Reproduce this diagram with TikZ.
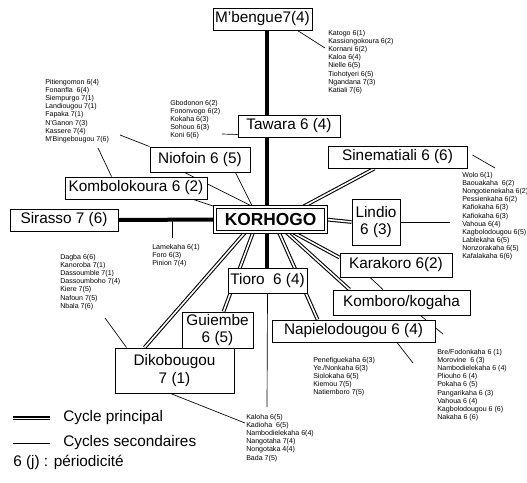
\documentclass[tikz,border=0pt]{standalone}
\usepackage{fontspec}
\setmainfont{Liberation Sans}
\usetikzlibrary{calc}
\pgfdeclarelayer{fond}
\pgfsetlayers{fond,main}
\tikzset{
  marche/.style={draw, fill=white, line width=0.7pt, inner sep=0pt, align=center,
    font=\fontsize{11.5}{13}\selectfont},
  liste/.style={anchor=north west, align=left, inner sep=0pt,
    font=\fontsize{5.3}{6.1}\selectfont},
  principal/.style={double, line width=0.8pt, double distance=1.2pt},
  axe/.style={line width=3pt},
  secondaire/.style={line width=0.5pt}
}
\begin{document}
\begin{tikzpicture}[x=0.75pt, y=-0.75pt]
                \useasboundingbox (0,0) rectangle (527,482);
                \node[marche, minimum width=74.25pt, minimum height=16.5pt] (mbengue) at (262.5,19) {M'bengue7(4)};
                \node[marche, minimum width=76.5pt, minimum height=16.5pt] (tawara) at (289,126) {Tawara 6 (4)};
                \node[marche, minimum width=75pt, minimum height=18.75pt] (niofoin) at (200,159.5) {Niofoin 6 (5)};
                \node[marche, minimum width=106.5pt, minimum height=16.5pt] (kombo) at (136,188) {Kombolokoura 6 (2)};
                \node[marche, minimum width=104.25pt, minimum height=16.5pt] (sinema) at (397.5,157) {Sinematiali 6 (6)};
                \node[marche, double, line width=0.8pt, double distance=1.2pt, minimum width=83.25pt,
                    minimum height=18.75pt, font=\fontsize{13}{15}\selectfont\bfseries] (korhogo) at (270.5,219.5) {KORHOGO};
                \node[marche, minimum width=81pt, minimum height=16.5pt] (sirasso) at (64,220) {Sirasso 7 (6)};
                \node[marche, minimum width=36pt, minimum height=34.5pt] (lindio) at (376,222) {Lindio\\6 (3)};
                \node[marche, minimum width=84pt, minimum height=18pt] (karakoro) at (396,265) {Karakoro 6(2)};
                \node[marche, minimum width=59.25pt, minimum height=18.75pt] (tioro) at (267.5,280.5) {Tioro~~6 (4)};
                \node[marche, minimum width=102.75pt, minimum height=18.75pt] (komboro) at (401.5,302.5) {Komboro/kogaha};
                \node[marche, minimum width=122.25pt, minimum height=16.5pt] (napie) at (353.5,331) {Napielodougou 6 (4)};
                \node[marche, minimum width=89.25pt, minimum height=33.75pt] (diko) at (174.5,370.5) {Dikobougou\\7 (1)};
                \node[marche, minimum width=53.25pt, minimum height=27pt] (guiembe) at (217.5,330) {Guiembe\\6 (5)};

                \node[liste] (mbliste) at (328,30) {Katogo 6(1)\\Kassiongokoura 6(2)\\Kornani 6(2)\\Kaloa 6(4)\\Nielle 6(5)\\Tiohotyeri 6(5)\\Ngandana 7(3)\\Katiali 7(6)};
                \node[liste] (pitliste) at (45,79) {Pitiengomon 6(4)\\Fonanfla\ \ 6(4)\\Siempurgo 7(1)\\Landiougou 7(1)\\Fapaka 7(1)\\N'Ganon 7(3)\\Kassere 7(4)\\M'Bingebougou 7(6)};
                \node[liste] (gboliste) at (170,100) {Gbodonon 6(2)\\Fononvogo 6(2)\\Kokaha 6(3)\\Sohouo 6(3)\\Koni 6(6)};
                \node[liste] (wololiste) at (462,172) {Wolo 6(1)\\Baouakaha\ \ 6(2)\\Nongotienekaha 6(2)\\Pessienkaha 6(2)\\Kafiokaha 6(3)\\Kafiokaha 6(3)\\Vahoua 6(4)\\Kagbolodougou 6(5)\\Lablekaha 6(5)\\Nonzorakaha 6(5)\\Kafalakaha 6(6)};
                \node[liste] (lameliste) at (152,244) {Lamekaha 6(1)\\Foro 6(3)\\Pinion 7(4)};
                \node[liste] (dagbaliste) at (60,254) {Dagba 6(6)\\Kanoroba 7(1)\\Dassoumble 7(1)\\Dassoumboho 7(4)\\Kiere 7(5)\\Nafoun 7(5)\\Nbala 7(6)};
                \node[liste] (peneliste) at (313,357) {Penefiguekaha 6(3)\\Ye./Nonkaha 6(3)\\Siolokaha 6(5)\\Kiemou 7(5)\\Natiemboro 7(5)};
                \node[liste] (breliste) at (437,349) {Bre/Fodonkaha 6 (1)\\Morovine\ \ 6 (3)\\Nambodielekaha 6 (4)\\Pliouho 6 (4)\\Pokaha 6 (5)\\Pangarikaha 6 (3)\\Vahoua 6 (4)\\Kagbolodougou 6 (6)\\Nakaha 6 (6)};
                \node[liste] (kaloliste) at (246,414) {Kaloha 6(5)\\Kadioha\ \ 6(5)\\Nambodielekaha 6(4)\\Nangotaha 7(4)\\Nongotaka 4(4)\\Bada 7(5)};

                \node[anchor=west, inner sep=0pt, font=\fontsize{11.5}{13}\selectfont] (legp) at (63,418) {Cycle principal};
                \node[anchor=west, inner sep=0pt, font=\fontsize{11.5}{13}\selectfont] (legs) at (63,443) {Cycles secondaires};
                \node[anchor=west, inner sep=0pt, font=\fontsize{11.5}{13}\selectfont] (legj) at (13,462) {6 (j) : périodicité};

                \begin{pgfonlayer}{fond}
                \draw[axe] ($(mbengue.south)+(4.5,0)$) -- ($(korhogo.north)+(-3.5,0)$);
                \draw[axe] ($(korhogo.south)+(-3.5,0)$) -- ($(tioro.north)+(-0.5,0)$);
                \draw[axe] (sirasso.east) -- (korhogo.west);
                \draw[principal] ($(korhogo.north east)+(-23,0)$) -- ($(sinema.south west)+(47,0)$);
                \draw[principal] (korhogo.east) -- (lindio.west);
                \draw[principal] ($(korhogo.south east)+(-33,0)$) -- ($(karakoro.north west)+(0,5)$);
                \draw[principal] ($(korhogo.south east)+(-40,0)$) -- ($(komboro.north west)+(17,0)$);
                \draw[principal] ($(korhogo.south)+(8.5,0)$) -- ($(napie.north west)+(46,0)$);
                \draw[principal] ($(korhogo.south)+(-17.5,0)$) -- ($(guiembe.north west)+(42,0)$);
                \draw[principal] ($(korhogo.south)+(-25.5,0)$) -- ($(diko.north west)+(30,0)$);

                \draw[secondaire] ($(mbengue.south east)+(-15,0)$) -- ($(mbliste.north west)+(-3,18)$);
                \draw[secondaire] ($(pitliste.north west)+(75,56)$) -- (niofoin.north west);
                \draw[secondaire] ($(pitliste.north west)+(53,69)$) -- ($(kombo.north west)+(47,0)$);
                \draw[secondaire] ($(gboliste.north west)+(52,34)$) -- ($(tawara.south west)+(0,-3)$);
                \draw[secondaire] ($(niofoin.south east)+(-15,0)$) -- ($(korhogo.north west)+(38,0)$);
                \draw[secondaire] ($(niofoin.south west)+(35,0)$) -- ($(korhogo.north west)+(38,0)$);
                \draw[secondaire] ($(kombo.south east)+(-14,0)$) -- (korhogo.north west);
                \draw[secondaire] ($(sinema.east)+(5,-2)$) -- ($(wololiste.north west)+(33,-4)$);
                \draw[secondaire] (lindio.east) -- ($(wololiste.north west)+(-12,50)$);
                \draw[secondaire] ($(lameliste.north west)+(20,-6)$) -- ($(lameliste.north west)+(20,-24)$);
                \draw[secondaire] ($(dagbaliste.north west)+(45,64)$) -- ($(diko.north west)+(12,0)$);
                \draw[secondaire] ($(karakoro.south)+(-26,0)$) -- ($(komboro.north)+(-18.5,0)$);
                \draw[secondaire] ($(komboro.south)+(19,0)$) -- ($(breliste.north west)+(6,-15)$);
                \draw[secondaire] ($(napie.south)+(43.5,0)$) -- ($(breliste.north west)+(-24,14)$);
                \draw[secondaire] (tioro.south) -- ($(kaloliste.north west)+(21,-7)$);
                \draw[secondaire] ($(diko.south)+(-4,0)$) -- ($(kaloliste.north west)+(-1,9)$);

                \draw[principal, line width=1.1pt, double distance=0.7pt] ($(legp.west)+(-50,0)$) -- ($(legp.west)+(-13,0)$);
                \draw[secondaire] ($(legs.west)+(-50,0)$) -- ($(legs.west)+(-13,0)$);
                \end{pgfonlayer}
            \end{tikzpicture}
\end{document}
